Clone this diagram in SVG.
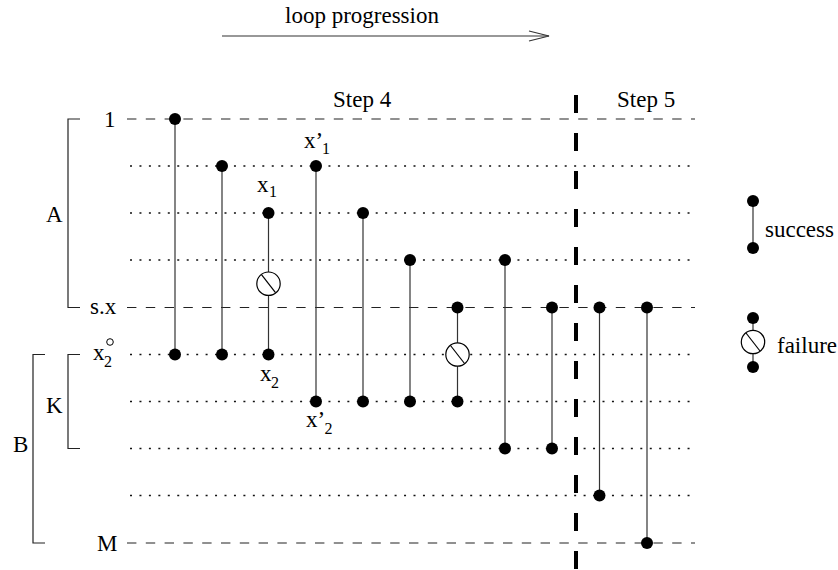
<svg xmlns="http://www.w3.org/2000/svg" width="838" height="570" viewBox="0 0 838 570">
<defs>
<style>
text{font-family:'Liberation Serif','Tinos','Times New Roman','DejaVu Serif',serif;font-size:23px;fill:#000}
.sub{font-size:16px}
.dash{stroke:#222;stroke-width:1.2;stroke-dasharray:9.4 9.4;fill:none}
.dot{stroke:#111;stroke-width:1.6;stroke-dasharray:2 7.45;fill:none}
.br{stroke:#222;stroke-width:1.2;fill:none}
.wire{stroke:#333;stroke-width:1.2;fill:none}
.pt{fill:#000}
.fail{fill:#fff;stroke:#000;stroke-width:1.2}
.slash{stroke:#000;stroke-width:1.2}
</style>
<g id="failsym">
<circle class="fail" cx="0" cy="0" r="11.7"/>
<line class="slash" x1="-7" y1="-9" x2="7" y2="9"/>
</g>
</defs>
<rect width="838" height="570" fill="#fff"/>

<g id="title">
<text x="285" y="23">loop progression</text>
<line x1="222" y1="36" x2="549" y2="36" stroke="#333" stroke-width="1.2"/>
<polyline points="529,31 549,36 529,41" fill="none" stroke="#333" stroke-width="1.2"/>
</g>

<g id="rows">
<line class="dash" x1="127" y1="119" x2="695" y2="119"/>
<line class="dot" x1="130" y1="166" x2="692" y2="166"/>
<line class="dot" x1="130" y1="213" x2="692" y2="213"/>
<line class="dot" x1="130" y1="260" x2="692" y2="260"/>
<line class="dash" x1="127" y1="307.5" x2="695" y2="307.5"/>
<line class="dot" x1="130" y1="354.5" x2="692" y2="354.5"/>
<line class="dot" x1="130" y1="401.5" x2="692" y2="401.5"/>
<line class="dot" x1="130" y1="448.5" x2="692" y2="448.5"/>
<line class="dot" x1="130" y1="495.5" x2="692" y2="495.5"/>
<line class="dash" x1="127" y1="543" x2="695" y2="543"/>
</g>

<g id="step-divider">
<line x1="576" y1="95" x2="576" y2="570" stroke="#000" stroke-width="4" stroke-dasharray="18 20"/>
<text x="333" y="107">Step 4</text>
<text x="617" y="107">Step 5</text>
</g>

<g id="brackets">
<polyline class="br" points="80,119 68,119 68,307.5 80,307.5"/>
<polyline class="br" points="80,354.5 68,354.5 68,448.5 80,448.5"/>
<polyline class="br" points="45,354.5 33,354.5 33,543 45,543"/>
<text x="46" y="222">A</text>
<text x="46" y="413">K</text>
<text x="13" y="452">B</text>
</g>

<g id="row-labels">
<text x="104" y="127">1</text>
<text x="90" y="314">s.x</text>
<text x="93" y="360">x<tspan class="sub" x="104" y="367">2</tspan></text>
<circle cx="110" cy="342" r="3.3" fill="none" stroke="#000" stroke-width="1"/>
<text x="97" y="551">M</text>
</g>

<g id="connectors">
<g id="g1"><line class="wire" x1="175" y1="119" x2="175" y2="354.5"/><circle class="pt" cx="175" cy="119" r="6"/><circle class="pt" cx="175" cy="354.5" r="6"/></g>
<g id="g2"><line class="wire" x1="222" y1="166" x2="222" y2="354.5"/><circle class="pt" cx="222" cy="166" r="6"/><circle class="pt" cx="222" cy="354.5" r="6"/></g>
<g id="g3"><line class="wire" x1="268.5" y1="213" x2="268.5" y2="354.5"/><circle class="pt" cx="268.5" cy="213" r="6"/><circle class="pt" cx="268.5" cy="354.5" r="6"/><use href="#failsym" x="268.5" y="283.7"/>
<text x="257" y="192">x<tspan class="sub" x="269" y="197">1</tspan></text>
<text x="260" y="381">x<tspan class="sub" x="271" y="388">2</tspan></text></g>
<g id="g4"><line class="wire" x1="316" y1="166" x2="316" y2="401.5"/><circle class="pt" cx="316" cy="166" r="6"/><circle class="pt" cx="316" cy="401.5" r="6"/>
<text x="304" y="148">x’<tspan class="sub" x="322" y="154">1</tspan></text>
<text x="306" y="427">x’<tspan class="sub" x="324.5" y="434">2</tspan></text></g>
<g id="g5"><line class="wire" x1="363" y1="213" x2="363" y2="401.5"/><circle class="pt" cx="363" cy="213" r="6"/><circle class="pt" cx="363" cy="401.5" r="6"/></g>
<g id="g6"><line class="wire" x1="410" y1="260" x2="410" y2="401.5"/><circle class="pt" cx="410" cy="260" r="6"/><circle class="pt" cx="410" cy="401.5" r="6"/></g>
<g id="g7"><line class="wire" x1="457.5" y1="307.5" x2="457.5" y2="401.5"/><circle class="pt" cx="457.5" cy="307.5" r="6"/><circle class="pt" cx="457.5" cy="401.5" r="6"/><use href="#failsym" x="457.5" y="354.5"/></g>
<g id="g8"><line class="wire" x1="505" y1="260" x2="505" y2="448.5"/><circle class="pt" cx="505" cy="260" r="6"/><circle class="pt" cx="505" cy="448.5" r="6"/></g>
<g id="g9"><line class="wire" x1="552" y1="307.5" x2="552" y2="448.5"/><circle class="pt" cx="552" cy="307.5" r="6"/><circle class="pt" cx="552" cy="448.5" r="6"/></g>
<g id="g10"><line class="wire" x1="599.5" y1="307.5" x2="599.5" y2="495.5"/><circle class="pt" cx="599.5" cy="307.5" r="6"/><circle class="pt" cx="599.5" cy="495.5" r="6"/></g>
<g id="g11"><line class="wire" x1="647" y1="307.5" x2="647" y2="543"/><circle class="pt" cx="647" cy="307.5" r="6"/><circle class="pt" cx="647" cy="543" r="6"/></g>
</g>

<g id="legend">
<g id="legend-success"><line class="wire" x1="753" y1="201" x2="753" y2="248"/><circle class="pt" cx="753" cy="201" r="6"/><circle class="pt" cx="753" cy="248" r="6"/><text x="765" y="237">success</text></g>
<g id="legend-failure"><line class="wire" x1="753" y1="318" x2="753" y2="367"/><circle class="pt" cx="753" cy="318" r="6"/><circle class="pt" cx="753" cy="367" r="6"/><use href="#failsym" x="753" y="342"/><text x="777" y="353">failure</text></g>
</g>
</svg>
